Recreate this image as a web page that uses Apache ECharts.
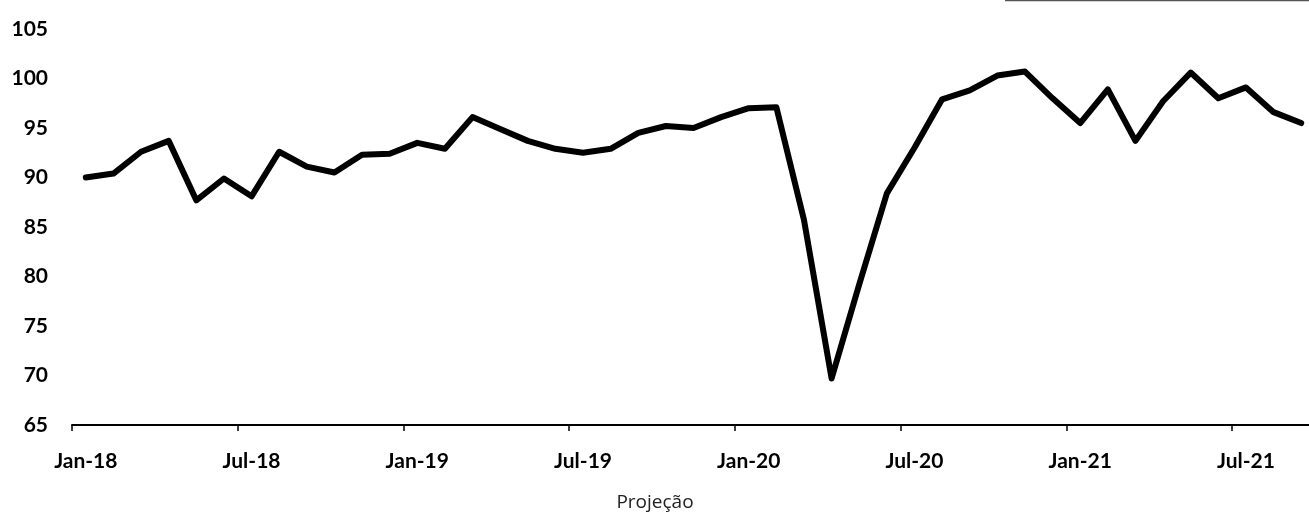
<!DOCTYPE html>
<html>
<head>
<meta charset="utf-8">
<script src="https://cdn.jsdelivr.net/npm/echarts@6/dist/echarts.min.js"></script>
<style>html,body{margin:0;padding:0;background:#fff}#c{width:1309px;height:514px}</style>
</head>
<body>
<div id="c"></div>
<script>
const categories = [
  'Jan-18','Feb-18','Mar-18','Apr-18','May-18','Jun-18','Jul-18','Aug-18','Sep-18','Oct-18','Nov-18','Dec-18',
  'Jan-19','Feb-19','Mar-19','Apr-19','May-19','Jun-19','Jul-19','Aug-19','Sep-19','Oct-19','Nov-19','Dec-19',
  'Jan-20','Feb-20','Mar-20','Apr-20','May-20','Jun-20','Jul-20','Aug-20','Sep-20','Oct-20','Nov-20','Dec-20',
  'Jan-21','Feb-21','Mar-21','Apr-21','May-21','Jun-21','Jul-21','Aug-21','Sep-21'
];
const values = [
  90.0, 90.4, 92.6, 93.7, 87.7, 89.9, 88.1, 92.6, 91.1, 90.5, 92.3, 92.4,
  93.5, 92.9, 96.1, 94.9, 93.7, 92.9, 92.5, 92.9, 94.5, 95.2, 95.0, 96.1,
  97.0, 97.1, 85.7, 69.7, 79.2, 88.4, 93.0, 97.9, 98.8, 100.3, 100.7, 98.0,
  95.5, 98.9, 93.7, 97.7, 100.6, 98.0, 99.1, 96.6, 95.5
];
const axisName = 'Projeção';
const yMin = 65, yMax = 105, yStep = 5;

const chart = echarts.init(document.getElementById('c'));
chart.setOption({
  animation: false,
  backgroundColor: '#ffffff',
  grid: { left: 72, top: 29, width: 1243, height: 396, containLabel: false, outerBoundsMode: 'none' },
  xAxis: {
    type: 'category',
    data: categories,
    boundaryGap: true,
    axisLine: { show: true, lineStyle: { color: '#000', width: 2 } },
    axisTick: { show: true, interval: 5, length: 6, alignWithLabel: false, lineStyle: { color: '#000', width: 1.5 } },
    axisLabel: { interval: 5, margin: 26, fontFamily: 'Lato', fontWeight: 'bold', fontSize: 21, color: '#000' },
    splitLine: { show: false }
  },
  yAxis: {
    type: 'value',
    min: yMin, max: yMax, interval: yStep,
    axisLine: { show: false },
    axisTick: { show: false },
    splitLine: { show: false },
    axisLabel: { margin: 24, fontFamily: 'Lato', fontWeight: 'bold', fontSize: 21, color: '#000' }
  },
  graphic: [
    { type: 'line', shape: { x1: 1005, y1: 0.5, x2: 1309, y2: 0.5 }, style: { stroke: '#555', lineWidth: 1.5 } },
    { type: 'text', x: 655, y: 503, style: { text: axisName, fill: '#222', font: '19px "Open Sans"', textAlign: 'center', textVerticalAlign: 'middle' } }
  ],
  series: [{
    type: 'line',
    data: values,
    symbol: 'none',
    lineStyle: { color: '#000', width: 6, join: 'round', cap: 'round' },
    itemStyle: { color: '#000' }
  }]
});
</script>
</body>
</html>
